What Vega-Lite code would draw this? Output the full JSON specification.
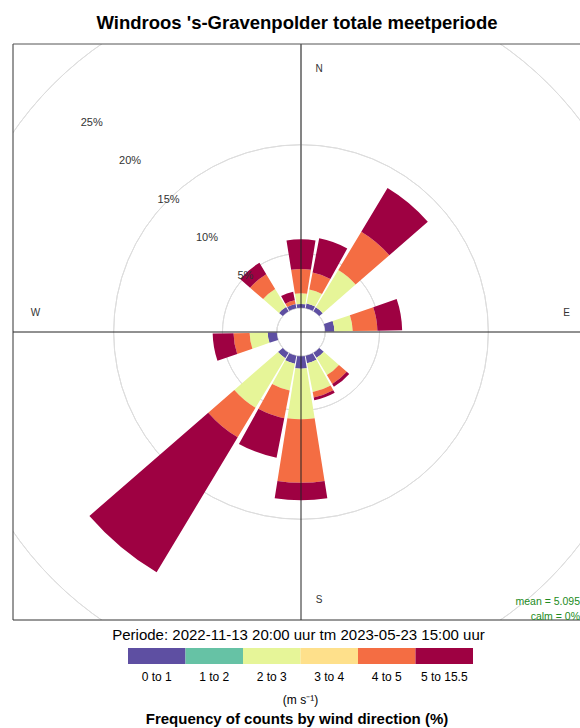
{
  "$schema": "https://vega.github.io/schema/vega-lite/v6.json",
  "background": "white",
  "padding": {"left": 12, "top": 14, "right": -8, "bottom": 0},
  "title": {"text": "Windroos 's-Gravenpolder totale meetperiode", "fontSize": 18.5, "fontWeight": "bold", "color": "#000000", "anchor": "middle", "offset": 11, "dx": -4, "font": "Liberation Sans"},
  "config": {"font": "Liberation Sans", "view": {"stroke": null}},
  "bounds": "flush",
  "spacing": 28,
  "resolve": {"scale": {"x": "independent", "y": "independent", "color": "shared"}},
  "vconcat": [
    {
      "width": 576,
      "height": 576,
      "layer": [
        {
          "data": {"values": [{"p": 0}, {"p": 5}, {"p": 10}, {"p": 15}, {"p": 20}, {"p": 25}]},
          "mark": {"type": "arc", "filled": false, "stroke": "#dddddd", "strokeWidth": 1, "clip": true},
          "encoding": {
            "x": {"datum": 0, "type": "quantitative", "scale": {"domain": [-26.49, 26.49], "nice": false, "zero": false}, "axis": null},
            "y": {"datum": 0, "type": "quantitative", "scale": {"domain": [-26.49, 26.49], "nice": false, "zero": false}, "axis": null},
            "theta": {"datum": 0, "type": "quantitative", "scale": {"domain": [0, 360], "range": [0, 6.283185307]}},
            "theta2": {"datum": 360},
            "radius": {"field": "p", "type": "quantitative", "scale": {"type": "linear", "domain": [0, 25], "range": [24.2, 296], "zero": false, "nice": false}}
          }
        },
        {
          "data": {"values": [
            {"dir": 0, "speed": "0 to 1", "p0": 0, "p1": 0.35},
            {"dir": 0, "speed": "2 to 3", "p0": 0.35, "p1": 1.33},
            {"dir": 0, "speed": "4 to 5", "p0": 1.33, "p1": 3.57},
            {"dir": 0, "speed": "5 to 15.5", "p0": 3.57, "p1": 6.30},
            {"dir": 20, "speed": "0 to 1", "p0": 0, "p1": 0.45},
            {"dir": 20, "speed": "2 to 3", "p0": 0.45, "p1": 1.76},
            {"dir": 20, "speed": "4 to 5", "p0": 1.76, "p1": 3.35},
            {"dir": 20, "speed": "5 to 15.5", "p0": 3.35, "p1": 6.55},
            {"dir": 40, "speed": "0 to 1", "p0": 0, "p1": 0.42},
            {"dir": 40, "speed": "2 to 3", "p0": 0.42, "p1": 4.43},
            {"dir": 40, "speed": "4 to 5", "p0": 4.43, "p1": 8.54},
            {"dir": 40, "speed": "5 to 15.5", "p0": 8.54, "p1": 13.23},
            {"dir": 80, "speed": "0 to 1", "p0": 0, "p1": 0.85},
            {"dir": 80, "speed": "2 to 3", "p0": 0.85, "p1": 2.53},
            {"dir": 80, "speed": "4 to 5", "p0": 2.53, "p1": 4.80},
            {"dir": 80, "speed": "5 to 15.5", "p0": 4.80, "p1": 7.08},
            {"dir": 140, "speed": "0 to 1", "p0": 0, "p1": 0.55},
            {"dir": 140, "speed": "2 to 3", "p0": 0.55, "p1": 2.40},
            {"dir": 140, "speed": "4 to 5", "p0": 2.40, "p1": 3.35},
            {"dir": 140, "speed": "5 to 15.5", "p0": 3.35, "p1": 3.65},
            {"dir": 160, "speed": "0 to 1", "p0": 0, "p1": 0.70},
            {"dir": 160, "speed": "2 to 3", "p0": 0.70, "p1": 3.40},
            {"dir": 160, "speed": "4 to 5", "p0": 3.40, "p1": 3.90},
            {"dir": 160, "speed": "5 to 15.5", "p0": 3.90, "p1": 4.17},
            {"dir": 180, "speed": "0 to 1", "p0": 0, "p1": 1.15},
            {"dir": 180, "speed": "2 to 3", "p0": 1.15, "p1": 5.80},
            {"dir": 180, "speed": "4 to 5", "p0": 5.80, "p1": 11.64},
            {"dir": 180, "speed": "5 to 15.5", "p0": 11.64, "p1": 13.25},
            {"dir": 200, "speed": "0 to 1", "p0": 0, "p1": 0.75},
            {"dir": 200, "speed": "2 to 3", "p0": 0.75, "p1": 3.25},
            {"dir": 200, "speed": "4 to 5", "p0": 3.25, "p1": 5.85},
            {"dir": 200, "speed": "5 to 15.5", "p0": 5.85, "p1": 9.55},
            {"dir": 220, "speed": "0 to 1", "p0": 0, "p1": 0.58},
            {"dir": 220, "speed": "2 to 3", "p0": 0.58, "p1": 5.90},
            {"dir": 220, "speed": "4 to 5", "p0": 5.90, "p1": 9.08},
            {"dir": 220, "speed": "5 to 15.5", "p0": 9.08, "p1": 23.56},
            {"dir": 260, "speed": "0 to 1", "p0": 0, "p1": 0.84},
            {"dir": 260, "speed": "2 to 3", "p0": 0.84, "p1": 2.50},
            {"dir": 260, "speed": "4 to 5", "p0": 2.50, "p1": 3.98},
            {"dir": 260, "speed": "5 to 15.5", "p0": 3.98, "p1": 5.90},
            {"dir": 320, "speed": "0 to 1", "p0": 0, "p1": 0.45},
            {"dir": 320, "speed": "2 to 3", "p0": 0.45, "p1": 2.39},
            {"dir": 320, "speed": "4 to 5", "p0": 2.39, "p1": 3.98},
            {"dir": 320, "speed": "5 to 15.5", "p0": 3.98, "p1": 5.20},
            {"dir": 340, "speed": "0 to 1", "p0": 0, "p1": 0.40},
            {"dir": 340, "speed": "4 to 5", "p0": 0.40, "p1": 0.75},
            {"dir": 340, "speed": "5 to 15.5", "p0": 0.75, "p1": 1.55}
          ]},
          "mark": {"type": "arc", "thetaOffset": -0.15708, "theta2Offset": 0.15708},
          "encoding": {
            "x": {"datum": 0, "type": "quantitative"},
            "y": {"datum": 0, "type": "quantitative"},
            "theta": {"field": "dir", "type": "quantitative", "stack": false},
            "theta2": {"field": "dir"},
            "radius": {"field": "p1", "type": "quantitative", "stack": false},
            "radius2": {"field": "p0"},
            "color": {"field": "speed", "type": "nominal", "scale": {"domain": ["0 to 1", "1 to 2", "2 to 3", "3 to 4", "4 to 5", "5 to 15.5"], "range": ["#5E4FA2", "#66C2A5", "#E6F598", "#FEE08B", "#F46D43", "#9E0142"]}, "legend": null}
          }
        },
        {
          "data": {"values": [{}]},
          "mark": {"type": "rule", "color": "#222222", "strokeWidth": 1},
          "encoding": {"x": {"datum": 0, "type": "quantitative"}}
        },
        {
          "data": {"values": [{}]},
          "mark": {"type": "rule", "color": "#222222", "strokeWidth": 1},
          "encoding": {"y": {"datum": 0, "type": "quantitative"}}
        },
        {
          "data": {"values": [{}]},
          "mark": {"type": "rule", "color": "#333333", "strokeWidth": 1},
          "encoding": {"x": {"datum": -26.49, "type": "quantitative"}}
        },
        {
          "data": {"values": [{}]},
          "mark": {"type": "rule", "color": "#555555", "strokeWidth": 1},
          "encoding": {"y": {"datum": 26.49, "type": "quantitative"}}
        },
        {
          "data": {"values": [{}]},
          "mark": {"type": "rule", "color": "#333333", "strokeWidth": 1},
          "encoding": {"y": {"datum": -26.49, "type": "quantitative"}}
        },
        {
          "data": {"values": [{"p": 5, "lab": "5%"}, {"p": 10, "lab": "10%"}, {"p": 15, "lab": "15%"}, {"p": 20, "lab": "20%"}, {"p": 25, "lab": "25%"}]},
          "mark": {"type": "text", "fontSize": 11, "color": "#333333", "baseline": "middle"},
          "encoding": {
            "x": {"datum": 0, "type": "quantitative"},
            "y": {"datum": 0, "type": "quantitative"},
            "theta": {"datum": 315, "type": "quantitative"},
            "radius": {"field": "p", "type": "quantitative"},
            "text": {"field": "lab"}
          }
        },
        {
          "data": {"values": [{"d": 0, "lab": "N"}, {"d": 180, "lab": "S"}]},
          "mark": {"type": "text", "fontSize": 10, "color": "#333333", "baseline": "middle", "dx": 18, "dy": 2.5},
          "encoding": {
            "x": {"datum": 0, "type": "quantitative"},
            "y": {"datum": 0, "type": "quantitative"},
            "theta": {"field": "d", "type": "quantitative"},
            "radius": {"datum": 22.2, "type": "quantitative"},
            "text": {"field": "lab"}
          }
        },
        {
          "data": {"values": [{"d": 90, "lab": "E"}, {"d": 270, "lab": "W"}]},
          "mark": {"type": "text", "fontSize": 10, "color": "#333333", "baseline": "middle", "dy": -19},
          "encoding": {
            "x": {"datum": 0, "type": "quantitative"},
            "y": {"datum": 0, "type": "quantitative"},
            "theta": {"field": "d", "type": "quantitative"},
            "radius": {"datum": 22.2, "type": "quantitative"},
            "text": {"field": "lab"}
          }
        },
        {
          "data": {"values": [{}]},
          "mark": {"type": "text", "fontSize": 10.5, "color": "#228B22", "align": "right", "baseline": "middle", "lineHeight": 15.5},
          "encoding": {
            "x": {"datum": 25.66, "type": "quantitative"},
            "y": {"datum": -24.81, "type": "quantitative"},
            "text": {"value": ["mean = 5.095", "calm = 0%"]}
          }
        }
      ]
    },
    {
      "width": 460,
      "height": 16,
      "data": {"values": [{"speed": "0 to 1"}, {"speed": "1 to 2"}, {"speed": "2 to 3"}, {"speed": "3 to 4"}, {"speed": "4 to 5"}, {"speed": "5 to 15.5"}]},
      "layer": [
        {
          "mark": {"type": "rect"},
          "encoding": {
            "x": {"field": "speed", "type": "nominal", "scale": {"domain": ["0 to 1", "1 to 2", "2 to 3", "3 to 4", "4 to 5", "5 to 15.5"], "paddingInner": 0, "paddingOuter": 1, "align": 1}, "axis": null},
            "color": {"field": "speed", "type": "nominal", "legend": null}
          }
        },
        {
          "mark": {"type": "text", "fontSize": 12, "color": "#000000", "baseline": "middle", "dy": 20.5},
          "encoding": {
            "x": {"field": "speed", "type": "nominal"},
            "text": {"field": "speed"}
          }
        },
        {
          "data": {"values": [{}]},
          "mark": {"type": "text", "fontSize": 12, "color": "#000000", "baseline": "middle", "dy": 44},
          "encoding": {
            "x": {"datum": "3 to 4", "type": "nominal", "bandPosition": 0},
            "text": {"value": "(m s⁻¹)"}
          }
        },
        {
          "data": {"values": [{}]},
          "mark": {"type": "text", "fontSize": 15, "color": "#000000", "baseline": "middle", "dy": -20.7},
          "encoding": {
            "x": {"datum": "2 to 3", "type": "nominal", "bandPosition": 0.965},
            "text": {"value": "Periode: 2022-11-13 20:00 uur tm 2023-05-23 15:00 uur"}
          }
        },
        {
          "data": {"values": [{}]},
          "mark": {"type": "text", "fontSize": 15, "fontWeight": "bold", "color": "#000000", "baseline": "alphabetic", "dy": 68},
          "encoding": {
            "x": {"datum": "2 to 3", "type": "nominal", "bandPosition": 0.939},
            "text": {"value": "Frequency of counts by wind direction (%)"}
          }
        }
      ]
    }
  ]
}
